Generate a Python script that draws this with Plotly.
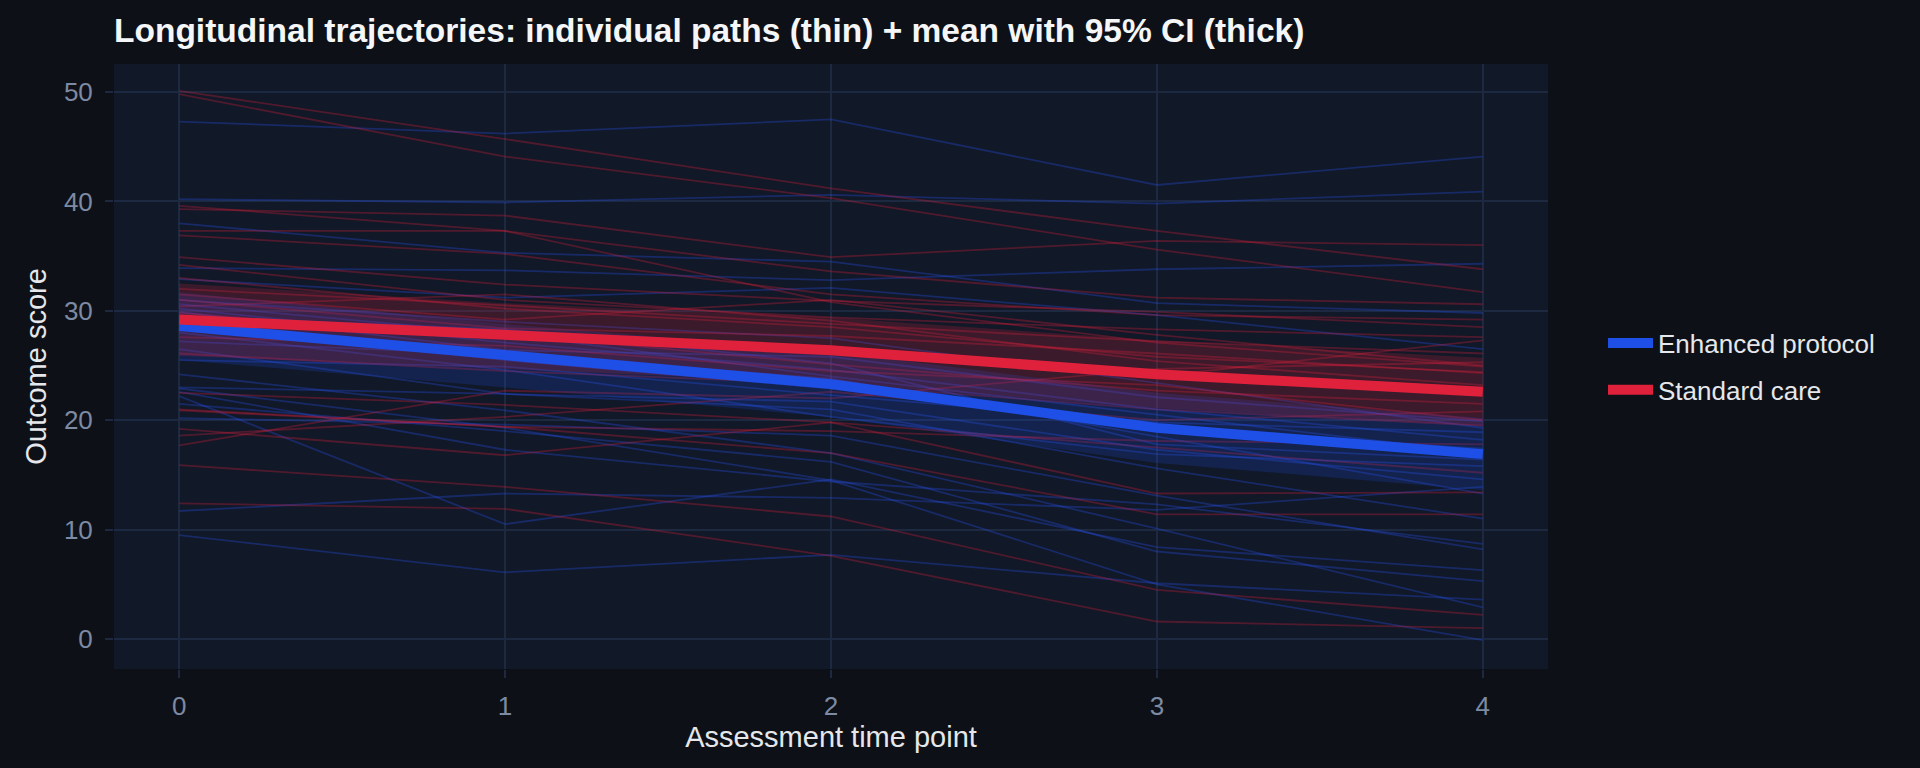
import plotly.graph_objects as go

# ---------------- data ----------------
time_points = [0, 1, 2, 3, 4]
x_tick_labels = ["0", "1", "2", "3", "4"]
y_tick_vals = [0, 10, 20, 30, 40, 50]

enhanced_paths = [
    [47.3, 46.2, 47.5, 41.5, 44.1],
    [40.2, 39.9, 40.6, 39.8, 40.9],
    [38.0, 35.3, 34.5, 30.7, 29.8],
    [33.9, 33.7, 32.8, 33.8, 34.3],
    [32.9, 31.2, 32.1, 29.6, 26.5],
    [31.0, 29.0, 27.5, 23.4, 19.3],
    [30.2, 27.1, 24.6, 21.0, 18.2],
    [29.5, 28.3, 25.2, 17.8, 16.4],
    [28.8, 25.5, 22.9, 19.2, 17.4],
    [28.0, 24.6, 20.3, 16.9, 15.8],
    [27.2, 26.0, 23.8, 18.5, 13.3],
    [26.5, 22.4, 21.7, 17.3, 14.6],
    [25.5, 24.9, 22.3, 19.8, 18.9],
    [23.0, 22.4, 21.0, 15.6, 11.0],
    [22.6, 17.3, 14.4, 12.3, 8.7],
    [22.2, 10.5, 14.6, 8.4, 6.3],
    [20.2, 19.6, 18.6, 13.1, 8.2],
    [11.7, 13.3, 12.9, 11.8, 13.9],
    [9.5, 6.1, 7.7, 5.1, 3.6],
    [21.5, 19.0, 16.2, 8.0, 5.3],
    [24.2, 20.9, 17.0, 10.1, 2.9],
    [22.9, 19.3, 14.5, 5.0, -0.1],
    [30.6, 27.9, 24.0, 20.5, 17.0],
    [29.9, 26.4, 25.8, 22.1, 19.9],
]

standard_paths = [
    [50.1, 45.7, 41.2, 37.3, 33.8],
    [49.8, 44.1, 40.3, 35.6, 31.7],
    [39.6, 37.3, 30.8, 27.1, 24.9],
    [39.3, 38.7, 34.9, 36.4, 36.0],
    [37.3, 37.3, 33.6, 31.2, 30.6],
    [36.9, 35.2, 31.5, 29.6, 29.2],
    [34.9, 32.4, 30.9, 29.9, 28.5],
    [34.2, 31.0, 29.4, 28.3, 27.6],
    [32.0, 30.5, 28.8, 27.2, 26.1],
    [31.5, 29.2, 31.0, 27.8, 25.0],
    [31.0, 28.4, 27.7, 26.1, 24.3],
    [30.4, 31.5, 29.1, 25.4, 23.2],
    [29.8, 27.5, 26.2, 24.0, 27.3],
    [28.7, 27.9, 25.1, 22.7, 21.5],
    [27.6, 26.8, 24.5, 23.2, 20.0],
    [26.1, 24.5, 23.3, 21.0, 19.5],
    [21.0, 19.4, 19.0, 18.1, 17.8],
    [17.7, 22.7, 22.0, 24.7, 25.3],
    [18.6, 20.3, 22.6, 20.0, 20.8],
    [19.2, 16.8, 19.8, 17.5, 15.2],
    [15.9, 13.9, 11.2, 4.5, 2.2],
    [12.4, 11.9, 7.6, 1.6, 1.0],
    [22.5, 21.4, 19.8, 13.3, 13.4],
    [20.9, 19.4, 17.0, 11.4, 11.4],
    [33.0, 30.2, 28.5, 25.8, 24.4],
]

enhanced_mean = [28.6, 25.9, 23.3, 19.3, 16.9]
enhanced_ci_low = [25.5, 23.0, 20.3, 16.1, 13.6]
enhanced_ci_high = [31.7, 28.8, 26.3, 22.5, 20.2]

standard_mean = [29.2, 27.7, 26.4, 24.2, 22.6]
standard_ci_low = [25.9, 24.7, 23.4, 21.1, 19.5]
standard_ci_high = [32.5, 30.7, 29.4, 27.3, 25.7]

group_names = ["Enhanced protocol", "Standard care"]

# ---------------- styles ----------------
BG = "#0d1117"
PANEL = "#111827"
GRID = "#1c2940"
BLUE = "#1e4fe6"
RED = "#e0213b"
BLUE_THIN = "rgba(40,80,230,0.33)"
RED_THIN = "rgba(224,33,59,0.30)"
BLUE_BAND = "rgba(30,79,230,0.20)"
RED_BAND = "rgba(224,33,59,0.20)"
FONT = "Liberation Sans, Arial, Helvetica, sans-serif"

fig = go.Figure()

for path in enhanced_paths:
    fig.add_trace(go.Scatter(x=time_points, y=path, mode="lines",
                             line=dict(color=BLUE_THIN, width=1.8),
                             showlegend=False, hoverinfo="skip"))
for path in standard_paths:
    fig.add_trace(go.Scatter(x=time_points, y=path, mode="lines",
                             line=dict(color=RED_THIN, width=1.8),
                             showlegend=False, hoverinfo="skip"))

for lo, hi, col in [(enhanced_ci_low, enhanced_ci_high, BLUE_BAND),
                    (standard_ci_low, standard_ci_high, RED_BAND)]:
    fig.add_trace(go.Scatter(x=time_points + time_points[::-1],
                             y=hi + lo[::-1], mode="lines", fill="toself",
                             fillcolor=col, line=dict(width=0),
                             showlegend=False, hoverinfo="skip"))

fig.add_trace(go.Scatter(x=time_points, y=enhanced_mean, mode="lines",
                         name=group_names[0], legendgroup="enh",
                         line=dict(color=BLUE, width=10)))
fig.add_trace(go.Scatter(x=time_points, y=standard_mean, mode="lines",
                         name=group_names[1], legendgroup="std",
                         line=dict(color=RED, width=10)))

fig.update_layout(
    width=1920, height=768,
    paper_bgcolor=BG, plot_bgcolor=PANEL,
    margin=dict(l=114, r=372, t=64, b=99),
    font=dict(family=FONT, color="#e5e7eb"),
    title=dict(text="<b>Longitudinal trajectories: individual paths (thin) + mean with 95% CI (thick)</b>",
               x=114 / 1920, xanchor="left", xref="container",
               y=1 - 30 / 768, yanchor="middle", yref="container",
               font=dict(size=33.5, color="#f5f6f8", family=FONT)),
    xaxis=dict(range=[-0.2, 4.2], tickvals=time_points, ticktext=x_tick_labels,
               showgrid=True, gridcolor=GRID, gridwidth=1.5, zeroline=False,
               ticks="outside", ticklen=8, tickcolor=GRID, tickwidth=1.5,
               ticklabelstandoff=6,
               tickfont=dict(size=26, color="#7d8aa3"),
               title=dict(text="Assessment time point", font=dict(size=29, color="#e5e7eb"), standoff=6),
               showline=False),
    yaxis=dict(range=[-2.74, 52.56], tickvals=y_tick_vals,
               showgrid=True, gridcolor=GRID, gridwidth=1.5, zeroline=False,
               ticks="outside", ticklen=8, tickcolor=GRID, tickwidth=1.5,
               ticklabelstandoff=7,
               tickfont=dict(size=26, color="#7d8aa3"),
               title=dict(text="Outcome score", font=dict(size=29, color="#e5e7eb"), standoff=8),
               showline=False),
    legend=dict(x=1603 / 1920, xref="container", xanchor="left",
                y=0.5, yanchor="middle", bgcolor="rgba(0,0,0,0)",
                font=dict(size=26, color="#e5e7eb"), itemwidth=45,
                traceorder="grouped", tracegroupgap=10),
    showlegend=True,
)

fig.write_html("out.html", config={"displayModeBar": False},
               post_script="document.body.style.margin='0';document.body.style.background='#0d1117';")
